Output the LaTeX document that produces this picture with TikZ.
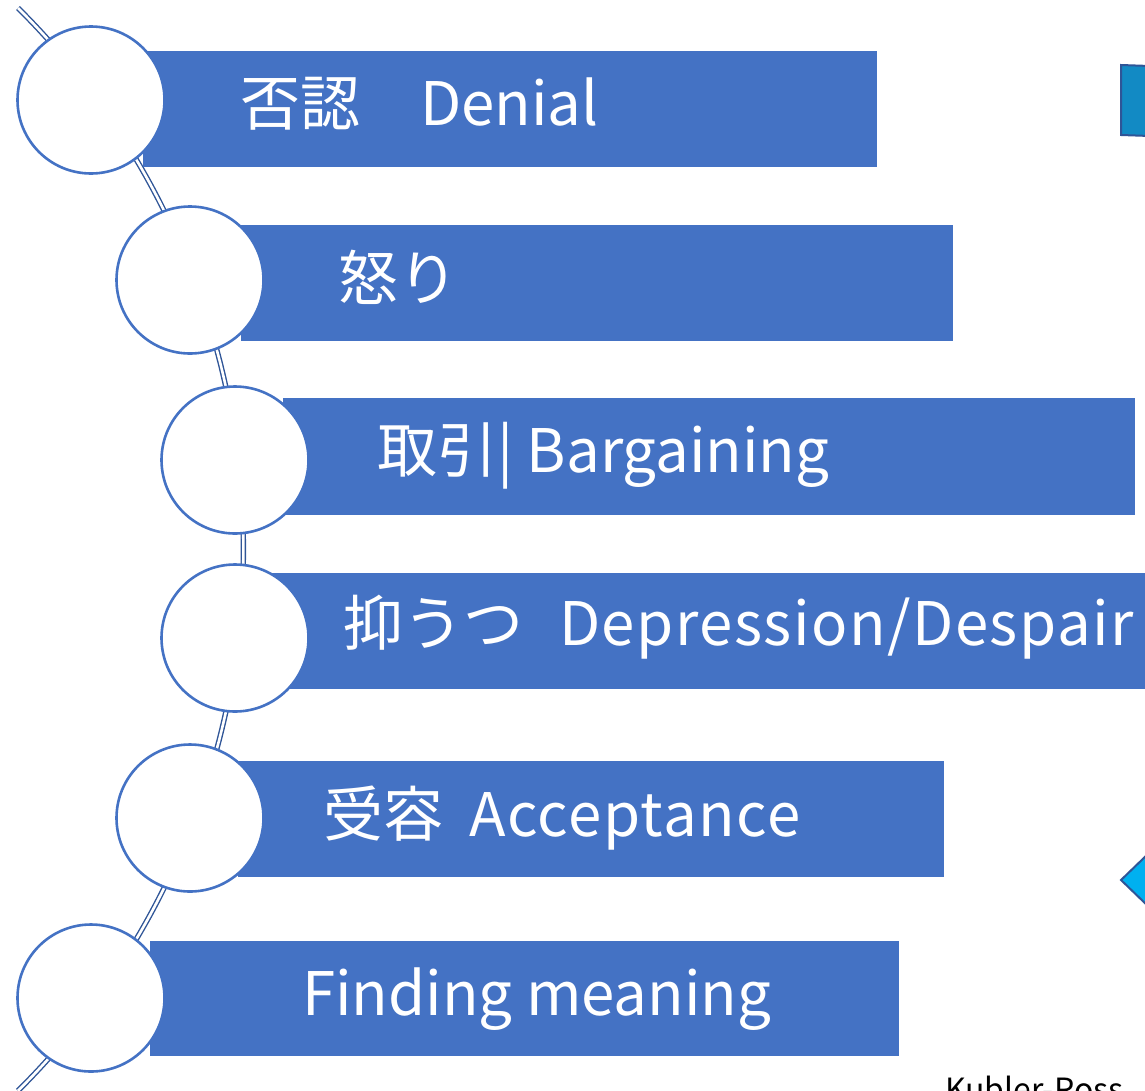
\documentclass[tikz,border=0pt]{standalone}
\usepackage{fontspec}
\newfontfamily\jp{Noto Sans CJK JP}
\definecolor{barblue}{HTML}{4472C4}
\definecolor{spineblue}{HTML}{2F5597}
\definecolor{tealbox}{HTML}{128AC4}
\definecolor{skyblue}{HTML}{00B0F0}
\begin{document}
\begin{tikzpicture}[x=1pt,y=-1pt,
  bar/.style={fill=barblue, draw=none, inner sep=0pt, anchor=north west},
  dot/.style={circle, draw=barblue, line width=2.6pt, fill=white, minimum size=147pt, inner sep=0pt},
  spine/.style={draw=spineblue, double=white, line width=1.4pt, double distance=2.6pt},
  lbl/.style={anchor=base west, text=white, font=\jp\fontsize{60}{60}\selectfont, inner sep=0pt},
  edgeshape/.style={draw=spineblue, line width=2pt}]
\useasboundingbox (0,0) rectangle (1145,1090);

% shapes at the right edge
\fill[tealbox, edgeshape] (1121,65) -- (1150,66) -- (1150,136) -- (1121,135) -- cycle;
\fill[skyblue, edgeshape] (1150,852) -- (1121,880) -- (1150,908);

% spine
\coordinate (spinestart) at (18,8);
\draw[spine] (spinestart) arc[start angle=-45.2, end angle=45.2, radius=763];

% bars
\node[bar, minimum width=734pt, minimum height=116pt] (r1) at (143,51) {};
\node[bar, minimum width=712pt, minimum height=116pt] (r2) at (241,225) {};
\node[bar, minimum width=852pt, minimum height=117pt] (r3) at (283,398) {};
\node[bar, minimum width=880pt, minimum height=116pt] (r4) at (272,573) {};
\node[bar, minimum width=706pt, minimum height=116pt] (r5) at (238,761) {};
\node[bar, minimum width=749pt, minimum height=115pt] (r6) at (150,941) {};

% circles
\node[dot] (c1) at (91,100) {};
\node[dot] (c2) at (190,280) {};
\node[dot] (c3) at (235,460) {};
\node[dot] (c4) at (235,638) {};
\node[dot] (c5) at (190,818) {};
\node[dot] (c6) at (91,998) {};

% labels
\node[lbl] (t1) at (240,125) {否認　Denial};
\node[lbl] (t2) at (338,300) {怒り};
\node[lbl] (t3) at (377,472) {取引| Bargaining};
\node[lbl] (t4) at (343,645) {抑うつ\hspace{36pt}\addfontfeature{LetterSpace=2.5}Depression/Despair};
\node[lbl] (t5) at (323,836) {受容\hspace{26pt}\addfontfeature{LetterSpace=2.5}Acceptance};
\node[lbl] (t6) at (302,1015) {Finding meaning};

\node[anchor=base west, inner sep=0pt, font=\jp\fontsize{32}{32}\selectfont] (src) at (945,1101) {Kubler-Ross};
\end{tikzpicture}
\end{document}
